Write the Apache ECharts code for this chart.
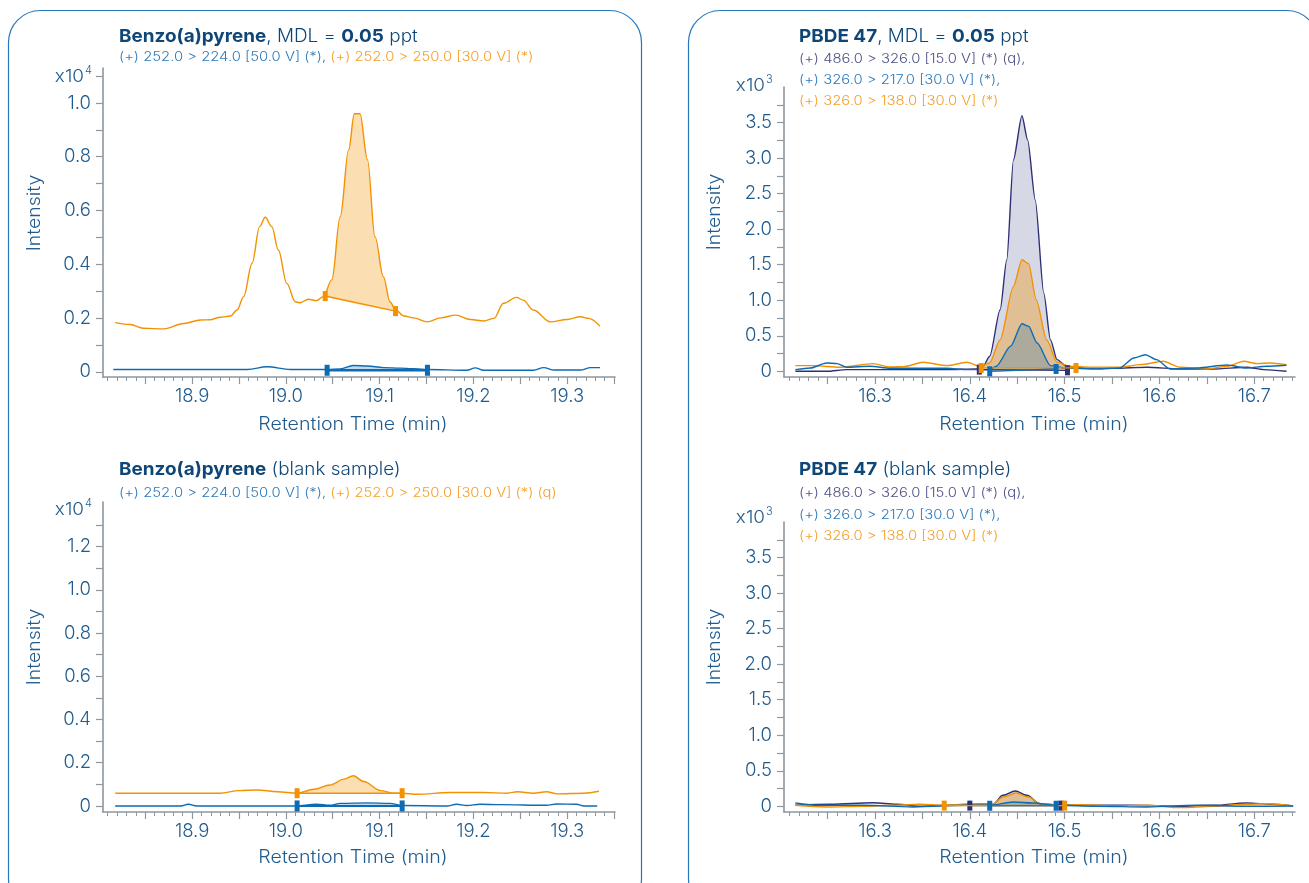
<!DOCTYPE html>
<html>
<head>
<meta charset="utf-8">
<script src="https://cdn.jsdelivr.net/npm/echarts@6/dist/echarts.min.js"></script>
<style>
  html, body { margin: 0; padding: 0; background: #fff; }
  #chart { width: 1309px; height: 883px; }
</style>
</head>
<body>
<div id="chart"></div>
<script>
// ---------- data ----------
// Retention-time windows (min)
const bapTimeRange = [18.805, 19.351];
const pbdeTimeRange = [16.204, 16.743];

// Axis tick labels
const bapTimeLabels = ['18.9', '19.0', '19.1', '19.2', '19.3'];
const pbdeTimeLabels = ['16.3', '16.4', '16.5', '16.6', '16.7'];
const bapIntensityLabels = ['0', '0.2', '0.4', '0.6', '0.8', '1.0'];
const bapBlankIntensityLabels = ['0', '0.2', '0.4', '0.6', '0.8', '1.0', '1.2'];
const pbdeIntensityLabels = ['0', '0.5', '1.0', '1.5', '2.0', '2.5', '3.0', '3.5'];

// Benzo(a)pyrene, MDL sample (intensity x10^4) : [time, intensity]
const bap250 = [
  [18.818, 0.183], [18.834, 0.176], [18.848, 0.162], [18.870, 0.160], [18.891, 0.180],
  [18.909, 0.193], [18.919, 0.194], [18.930, 0.203], [18.941, 0.208], [18.948, 0.230],
  [18.955, 0.280], [18.964, 0.404], [18.972, 0.540], [18.978, 0.575], [18.985, 0.540],
  [18.992, 0.453], [19.001, 0.329], [19.010, 0.261], [19.015, 0.257], [19.024, 0.270],
  [19.033, 0.265], [19.040, 0.280], [19.049, 0.342], [19.058, 0.577], [19.067, 0.826],
  [19.073, 0.960], [19.079, 0.960], [19.087, 0.789], [19.095, 0.503], [19.104, 0.354],
  [19.111, 0.261], [19.117, 0.230], [19.126, 0.208], [19.136, 0.201], [19.151, 0.186],
  [19.165, 0.201], [19.181, 0.211], [19.197, 0.195], [19.211, 0.189], [19.222, 0.199],
  [19.232, 0.255], [19.246, 0.277], [19.253, 0.267], [19.264, 0.230], [19.282, 0.186],
  [19.300, 0.195], [19.314, 0.205], [19.323, 0.199], [19.335, 0.170]
];
const bap224 = [
  [18.816, 0.009], [18.959, 0.009], [18.980, 0.019], [19.005, 0.009], [19.044, 0.009],
  [19.058, 0.011], [19.072, 0.024], [19.087, 0.022], [19.104, 0.016], [19.122, 0.014],
  [19.151, 0.009], [19.193, 0.006], [19.202, 0.015], [19.211, 0.006], [19.264, 0.006],
  [19.275, 0.016], [19.286, 0.007], [19.314, 0.007], [19.325, 0.016], [19.335, 0.016]
];
// integration limits: [start time, start level, end time, end level]
const bap250Peak = [19.042, 0.282, 19.117, 0.226];
const bap224Peak = [19.044, 0.006, 19.151, 0.006];

// Benzo(a)pyrene, blank sample (intensity x10^4)
const bapBlank250 = [
  [18.818, 0.059], [18.930, 0.059], [18.950, 0.071], [18.969, 0.074], [18.991, 0.066],
  [19.012, 0.059], [19.030, 0.077], [19.047, 0.097], [19.062, 0.124], [19.072, 0.140],
  [19.083, 0.113], [19.101, 0.071], [19.115, 0.059], [19.124, 0.059], [19.140, 0.054],
  [19.175, 0.062], [19.211, 0.062], [19.236, 0.059], [19.247, 0.066], [19.264, 0.059],
  [19.278, 0.066], [19.289, 0.056], [19.318, 0.059], [19.334, 0.068]
];
const bapBlank224 = [
  [18.818, 0.000], [18.888, 0.000], [18.896, 0.008], [18.905, 0.000], [19.012, 0.000],
  [19.023, 0.005], [19.033, 0.008], [19.047, 0.003], [19.058, 0.012], [19.087, 0.014],
  [19.111, 0.012], [19.124, 0.002], [19.172, 0.000], [19.182, 0.008], [19.193, 0.002],
  [19.207, 0.008], [19.229, 0.006], [19.278, 0.003], [19.289, 0.009], [19.310, 0.008],
  [19.318, 0.000], [19.332, 0.000]
];
const bapBlank250Peak = [19.012, 0.059, 19.124, 0.059];
const bapBlank224Peak = [19.012, 0.000, 19.124, 0.000];

// PBDE 47, MDL sample (intensity x10^3)
const pbde326 = [
  [16.216, 0.000], [16.249, 0.000], [16.270, 0.024], [16.305, 0.024], [16.376, 0.024],
  [16.407, 0.033], [16.414, 0.071], [16.421, 0.211], [16.432, 0.867], [16.439, 1.569],
  [16.446, 2.973], [16.455, 3.596], [16.461, 3.254], [16.469, 2.411], [16.478, 1.100],
  [16.485, 0.445], [16.492, 0.164], [16.502, 0.071], [16.516, 0.047], [16.551, 0.043],
  [16.587, 0.057], [16.622, 0.033], [16.657, 0.033], [16.692, 0.057], [16.710, 0.024],
  [16.734, 0.000]
];
const pbde138 = [
  [16.216, 0.080], [16.235, 0.080], [16.263, 0.057], [16.298, 0.108], [16.316, 0.061],
  [16.330, 0.066], [16.351, 0.127], [16.376, 0.080], [16.397, 0.127], [16.411, 0.071],
  [16.421, 0.117], [16.432, 0.445], [16.446, 1.194], [16.455, 1.569], [16.462, 1.513],
  [16.470, 1.007], [16.481, 0.445], [16.492, 0.127], [16.506, 0.071], [16.527, 0.057],
  [16.558, 0.057], [16.580, 0.094], [16.604, 0.141], [16.622, 0.057], [16.650, 0.033],
  [16.671, 0.071], [16.689, 0.141], [16.703, 0.108], [16.717, 0.117], [16.734, 0.094]
];
const pbde217 = [
  [16.216, 0.024], [16.232, 0.047], [16.249, 0.117], [16.260, 0.108], [16.270, 0.057],
  [16.295, 0.071], [16.316, 0.043], [16.376, 0.043], [16.397, 0.024], [16.421, 0.024],
  [16.428, 0.071], [16.443, 0.352], [16.455, 0.670], [16.462, 0.633], [16.471, 0.398],
  [16.485, 0.080], [16.499, 0.047], [16.534, 0.033], [16.558, 0.047], [16.573, 0.188],
  [16.585, 0.234], [16.597, 0.164], [16.611, 0.033], [16.639, 0.047], [16.671, 0.089],
  [16.692, 0.047], [16.713, 0.071], [16.734, 0.085]
];
const pbde326Peak = [16.410, 0.024, 16.503, 0.014];
const pbde138Peak = [16.412, 0.047, 16.512, 0.047];
const pbde217Peak = [16.421, 0.000, 16.491, 0.033];

// PBDE 47, blank sample (intensity x10^3)
const pbdeBlank326 = [
  [16.216, 0.014], [16.253, 0.028], [16.298, 0.051], [16.323, 0.028], [16.347, 0.000],
  [16.376, 0.014], [16.400, 0.028], [16.425, 0.037], [16.435, 0.155], [16.448, 0.216],
  [16.460, 0.155], [16.474, 0.037], [16.495, 0.014], [16.534, 0.014], [16.569, 0.014],
  [16.622, 0.000], [16.657, 0.014], [16.692, 0.047], [16.720, 0.028], [16.741, 0.005]
];
const pbdeBlank138 = [
  [16.216, 0.014], [16.249, -0.009], [16.288, 0.000], [16.323, 0.014], [16.347, 0.028],
  [16.373, 0.014], [16.397, 0.028], [16.425, 0.037], [16.435, 0.131], [16.449, 0.187],
  [16.462, 0.131], [16.474, 0.037], [16.500, 0.014], [16.516, 0.023], [16.551, 0.005],
  [16.587, 0.014], [16.622, -0.019], [16.657, 0.000], [16.692, 0.028], [16.713, 0.037],
  [16.741, 0.005]
];
const pbdeBlank217 = [
  [16.216, 0.047], [16.242, 0.014], [16.288, 0.014], [16.340, -0.009], [16.397, 0.014],
  [16.421, 0.014], [16.446, 0.061], [16.467, 0.047], [16.491, 0.014], [16.534, 0.000],
  [16.587, -0.009], [16.639, 0.014], [16.692, 0.000], [16.741, 0.005]
];
const pbdeBlank326Peak = [16.400, 0.010, 16.496, 0.010];
const pbdeBlank138Peak = [16.373, 0.010, 16.500, 0.010];
const pbdeBlank217Peak = [16.421, 0.008, 16.491, 0.008];

// ---------- styling ----------
const FONT = 'Inter, Roboto, "Liberation Sans", sans-serif';
const AXIS = '#8d979f';
const LABEL = '#1f5b8e';
const TITLE = '#0d4677';
const ORANGE = '#f39200';
const BLUE = '#0d6bb4';
const NAVY = '#2d3075';
const SUB_BLUE = '#2c7bbd';
const SUB_ORANGE = '#f5a02a';
const SUB_NAVY = '#4f5188';
const BORDER = '#2577bb';

const grids = [
  { left: 103, top: 68, width: 512, height: 309 },   // BaP sample
  { left: 103, top: 502, width: 512, height: 310 },  // BaP blank
  { left: 784, top: 87, width: 511, height: 290 },   // PBDE sample
  { left: 784, top: 522, width: 511, height: 290 }   // PBDE blank
];

function steps(from, to, step) {
  const out = [];
  const n = Math.round((to - from) / step);
  for (let i = 0; i <= n; i++) out.push(+(from + i * step).toFixed(4));
  return out;
}

function timeAxis(gridIndex, range, labels) {
  const first = Math.ceil(range[0] / 0.05 - 1e-9) * 0.05;
  const last = Math.floor(range[1] / 0.05 + 1e-9) * 0.05;
  return {
    type: 'value', gridIndex, min: range[0], max: range[1], splitNumber: 11,
    axisLine: { show: true, onZero: false, lineStyle: { color: AXIS, width: 1.6 } },
    axisTick: { show: true, length: 7, customValues: steps(first, last, 0.05),
      lineStyle: { color: AXIS, width: 1.2 } },
    minorTick: { show: true, splitNumber: 5, length: 4, lineStyle: { color: AXIS, width: 1 } },
    axisLabel: { customValues: labels.map(Number), formatter: v => v.toFixed(1),
      color: LABEL, fontFamily: FONT, fontSize: 18.5, fontWeight: 300, margin: 10 },
    splitLine: { show: false }, minorSplitLine: { show: false }
  };
}

function intensityAxis(gridIndex, min, max, labels, tickStep) {
  const top = Number(labels[labels.length - 1]);
  const tickTop = top + (max - top > tickStep * 1.2 ? tickStep : 0);
  return {
    type: 'value', gridIndex, min, max,
    axisLine: { show: true, onZero: false, lineStyle: { color: AXIS, width: 1.6 } },
    axisTick: { show: true, length: 7, customValues: steps(0, tickTop, tickStep),
      lineStyle: { color: AXIS, width: 1.2 } },
    axisLabel: { customValues: labels.map(Number),
      formatter: v => labels.find(l => Math.abs(Number(l) - v) < 1e-9),
      color: LABEL, fontFamily: FONT, fontSize: 18.5, fontWeight: 300, margin: 12 },
    splitLine: { show: false }
  };
}

function trace(gridIndex, data, color, smooth) {
  return {
    type: 'line', xAxisIndex: gridIndex, yAxisIndex: gridIndex, data,
    showSymbol: false, smooth: smooth == null ? 0.35 : smooth, smoothMonotone: 'x', silent: true, z: 3,
    lineStyle: { color, width: 1.4 }
  };
}

// shaded integrated area between the trace and its baseline
function peakFills(gridIndex, peaks) {
  return {
    type: 'custom', xAxisIndex: gridIndex, yAxisIndex: gridIndex, z: 2, silent: true, clip: true,
    data: peaks.map(p => p.bounds), encode: { x: [0, 2], y: [1, 3] },
    renderItem(params, api) {
      const p = peaks[params.dataIndex];
      const [t1, b1, t2, b2] = p.bounds;
      const pts = [api.coord([t1, b1])];
      p.trace.forEach(([t, v]) => { if (t > t1 && t < t2) pts.push(api.coord([t, v])); });
      pts.push(api.coord([t2, b2]));
      return { type: 'polygon', shape: { points: pts, smooth: 0.15 }, style: { fill: p.fill } };
    }
  };
}

// baseline and integration markers
function peakMarks(gridIndex, peaks) {
  return {
    type: 'custom', xAxisIndex: gridIndex, yAxisIndex: gridIndex, z: 5, silent: true, clip: false,
    data: peaks.map(p => p.bounds), encode: { x: [0, 2], y: [1, 3] },
    renderItem(params, api) {
      const p = peaks[params.dataIndex];
      const [t1, b1, t2, b2] = p.bounds;
      const a = api.coord([t1, b1]);
      const b = api.coord([t2, b2]);
      const w = 5, h = p.markH || 10;
      return {
        type: 'group', children: [
          { type: 'line', shape: { x1: a[0], y1: a[1], x2: b[0], y2: b[1] },
            style: { stroke: p.color, lineWidth: p.baseWidth || 1.4 } },
          { type: 'rect', shape: { x: a[0] - w / 2, y: a[1] - h / 2, width: w, height: h }, style: { fill: p.color } },
          { type: 'rect', shape: { x: b[0] - w / 2, y: b[1] - h / 2, width: w, height: h }, style: { fill: p.color } }
        ]
      };
    }
  };
}

const bapPeaks = [
  { trace: bap250, bounds: bap250Peak, fill: 'rgba(243,146,0,0.3)', color: ORANGE, baseWidth: 1.5 },
  { trace: bap224, bounds: bap224Peak, fill: 'rgba(13,107,180,0.25)', color: BLUE, baseWidth: 2.4, markH: 11 }
];
const bapBlankPeaks = [
  { trace: bapBlank250, bounds: bapBlank250Peak, fill: 'rgba(243,146,0,0.3)', color: ORANGE, baseWidth: 1.5 },
  { trace: bapBlank224, bounds: bapBlank224Peak, fill: 'rgba(13,107,180,0.25)', color: BLUE, baseWidth: 2.0, markH: 11 }
];
const pbdePeaks = [
  { trace: pbde326, bounds: pbde326Peak, fill: 'rgba(45,48,117,0.19)', color: NAVY, baseWidth: 1.2 },
  { trace: pbde138, bounds: pbde138Peak, fill: 'rgba(243,146,0,0.35)', color: ORANGE, baseWidth: 1.2 },
  { trace: pbde217, bounds: pbde217Peak, fill: 'rgba(13,107,180,0.25)', color: BLUE, baseWidth: 1.2 }
];
const pbdeBlankPeaks = [
  { trace: pbdeBlank326, bounds: pbdeBlank326Peak, fill: 'rgba(45,48,117,0.19)', color: NAVY, baseWidth: 1.2 },
  { trace: pbdeBlank138, bounds: pbdeBlank138Peak, fill: 'rgba(243,146,0,0.35)', color: ORANGE, baseWidth: 1.2 },
  { trace: pbdeBlank217, bounds: pbdeBlank217Peak, fill: 'rgba(13,107,180,0.25)', color: BLUE, baseWidth: 1.2 }
];

// ---------- text ----------
function txt(x, y, text, extra, scaleX) {
  return { type: 'text', x, y, scaleX: scaleX || 1, silent: true,
    style: Object.assign({ text, fontFamily: FONT, fontSize: 18, fontWeight: 300, fill: LABEL,
      align: 'left', verticalAlign: 'middle' }, extra || {}) };
}
const titleRich = {
  b: { fontFamily: FONT, fontSize: 18, fontWeight: 'bold', fill: TITLE, color: TITLE },
  n: { fontFamily: FONT, fontSize: 18, fontWeight: 300, fill: TITLE, color: TITLE }
};
const subRich = {
  q: { fontFamily: FONT, fontSize: 13, fontWeight: 300, fill: SUB_BLUE, color: SUB_BLUE },
  o: { fontFamily: FONT, fontSize: 13, fontWeight: 300, fill: SUB_ORANGE, color: SUB_ORANGE },
  v: { fontFamily: FONT, fontSize: 13, fontWeight: 300, fill: SUB_NAVY, color: SUB_NAVY }
};
function rich(x, y, text, r, scaleX) {
  return { type: 'text', x, y, scaleX: scaleX || 1, silent: true,
    style: { text, rich: r, align: 'left', verticalAlign: 'middle' } };
}
function title(x, y, text) { return rich(x, y, text, titleRich, 1.05); }
function sub(x, y, text) { return rich(x, y, text, subRich, 1.14); }
function exponent(xRight, y, power) {
  return [
    txt(xRight, y, 'x10', { align: 'right', fontSize: 17.5 }, 1.08),
    txt(xRight + 1, y - 6, power, { fontSize: 11 })
  ];
}
function vlabel(x, y) {
  return { type: 'text', x, y, rotation: Math.PI / 2, scaleX: 1.08, silent: true,
    style: { text: 'Intensity', fontFamily: FONT, fontSize: 18, fontWeight: 300, fill: LABEL,
      align: 'center', verticalAlign: 'middle' } };
}
function hlabel(x, y) {
  return txt(x, y, 'Retention Time (min)', { align: 'center' }, 1.09);
}

const graphic = [
  { type: 'rect', silent: true, shape: { x: 8.5, y: 10.5, width: 633, height: 900, r: 32 },
    style: { fill: 'none', stroke: BORDER, lineWidth: 1.2 } },
  { type: 'rect', silent: true, shape: { x: 688.5, y: 10.5, width: 630, height: 900, r: 32 },
    style: { fill: 'none', stroke: BORDER, lineWidth: 1.2 } },

  title(119, 37, '{b|Benzo(a)pyrene}{n|, MDL = }{b|0.05}{n| ppt}'),
  sub(119, 57, '{q|(+) 252.0 > 224.0 [50.0 V] (*), }{o|(+) 252.0 > 250.0 [30.0 V] (*)}'),
  ...exponent(84, 77, '4'), vlabel(35, 213), hlabel(353, 425),

  title(119, 470, '{b|Benzo(a)pyrene}{n| (blank sample)}'),
  sub(119, 493, '{q|(+) 252.0 > 224.0 [50.0 V] (*), }{o|(+) 252.0 > 250.0 [30.0 V] (*) (q)}'),
  ...exponent(84, 510, '4'), vlabel(35, 647), hlabel(353, 858),

  title(799, 37, '{b|PBDE 47}{n|, MDL = }{b|0.05}{n| ppt}'),
  sub(799, 59, '{v|(+) 486.0 > 326.0 [15.0 V] (*) (q),}'),
  sub(799, 80, '{q|(+) 326.0 > 217.0 [30.0 V] (*),}'),
  sub(799, 101, '{o|(+) 326.0 > 138.0 [30.0 V] (*)}'),
  ...exponent(765, 86, '3'), vlabel(715, 212), hlabel(1034, 425),

  title(799, 470, '{b|PBDE 47}{n| (blank sample)}'),
  sub(799, 493, '{v|(+) 486.0 > 326.0 [15.0 V] (*) (q),}'),
  sub(799, 515, '{q|(+) 326.0 > 217.0 [30.0 V] (*),}'),
  sub(799, 536, '{o|(+) 326.0 > 138.0 [30.0 V] (*)}'),
  ...exponent(765, 518, '3'), vlabel(715, 647), hlabel(1034, 858)
];

const chart = echarts.init(document.getElementById('chart'), null, { renderer: 'canvas' });
chart.setOption({
  animation: false,
  backgroundColor: '#ffffff',
  grid: grids.map(g => Object.assign({ outerBoundsMode: 'none', containLabel: false }, g)),
  xAxis: [
    timeAxis(0, bapTimeRange, bapTimeLabels),
    timeAxis(1, bapTimeRange, bapTimeLabels),
    timeAxis(2, pbdeTimeRange, pbdeTimeLabels),
    timeAxis(3, pbdeTimeRange, pbdeTimeLabels)
  ],
  yAxis: [
    intensityAxis(0, -0.019, 1.13, bapIntensityLabels, 0.1),
    intensityAxis(1, -0.028, 1.406, bapBlankIntensityLabels, 0.1),
    intensityAxis(2, -0.08, 4.0, pbdeIntensityLabels, 0.25),
    intensityAxis(3, -0.08, 4.0, pbdeIntensityLabels, 0.25)
  ],
  series: [
    peakFills(0, bapPeaks),
    trace(0, bap250, ORANGE), trace(0, bap224, BLUE),
    peakMarks(0, bapPeaks),

    peakFills(1, bapBlankPeaks),
    trace(1, bapBlank250, ORANGE), trace(1, bapBlank224, BLUE),
    peakMarks(1, bapBlankPeaks),

    peakFills(2, pbdePeaks),
    trace(2, pbde326, NAVY, 0.25), trace(2, pbde138, ORANGE, 0.25), trace(2, pbde217, BLUE, 0.25),
    peakMarks(2, pbdePeaks),

    peakFills(3, pbdeBlankPeaks),
    trace(3, pbdeBlank326, NAVY), trace(3, pbdeBlank138, ORANGE), trace(3, pbdeBlank217, BLUE),
    peakMarks(3, pbdeBlankPeaks)
  ],
  graphic
});
</script>
</body>
</html>
